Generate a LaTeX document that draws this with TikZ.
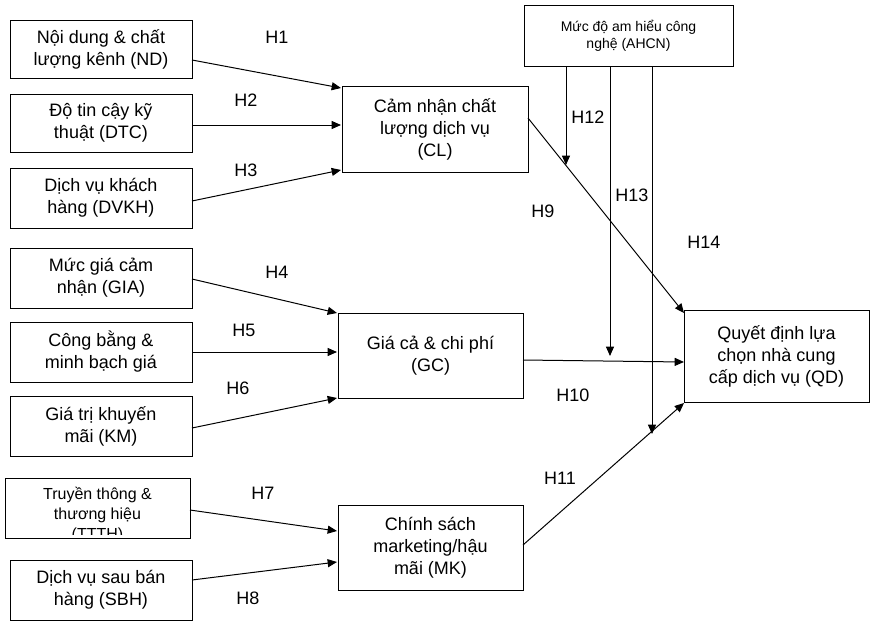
\documentclass[tikz,border=0pt]{standalone}
\usepackage{fontspec}
\setmainfont{Liberation Sans}
\usetikzlibrary{arrows.meta}
\tikzset{every picture/.style={line width=0.75pt}}
\tikzset{
  varbox/.style={draw,align=center,inner sep=0.75pt,font=\fontsize{13.5}{16.5}\selectfont},
  hlab/.style={inner sep=0.75pt,font=\fontsize{13.5}{16}\selectfont},
  link/.style={-{Triangle[length=7pt,width=6pt]}}
}
\begin{document}
\begin{tikzpicture}[x=0.75pt,y=0.75pt,yscale=-1,xscale=1]
\useasboundingbox (0,0) rectangle (876,629);

% Left boxes
\node[varbox,minimum width=136.5pt,minimum height=43.5pt] (ND) at (101,49) {Nội dung \& chất\\lượng kênh (ND)};
\node[varbox,minimum width=136.5pt,minimum height=43.5pt] (DTC) at (101,123) {Độ tin cậy kỹ\\thuật (DTC)};
\node[varbox,minimum width=136.5pt,minimum height=45pt] (DVKH) at (101,198) {Dịch vụ khách\\hàng (DVKH)};
\node[varbox,minimum width=136.5pt,minimum height=45pt] (GIA) at (101,278) {Mức giá cảm\\nhận (GIA)};
\node[varbox,minimum width=136.5pt,minimum height=45pt] (CB) at (101,352) {Công bằng \&\\minh bạch giá};
\node[varbox,minimum width=136.5pt,minimum height=45pt] (KM) at (101,426) {Giá trị khuyến\\mãi (KM)};
% clipped box
\draw (5,478) rectangle (190,538);
\begin{scope}
\clip (5,478) rectangle (190,534);
\node[align=center,inner sep=0.75pt,font=\fontsize{12}{15}\selectfont,anchor=north] at (97.5,486) {Truyền thông \&\\thương hiệu\\(TTTH)};
\end{scope}
\coordinate (TT) at (190,510);
\node[varbox,minimum width=136.5pt,minimum height=45pt] (SBH) at (101,590) {Dịch vụ sau bán\\hàng (SBH)};

% Middle boxes
\node[varbox,minimum width=139.5pt,minimum height=64.5pt] (CL) at (435,129) {Cảm nhận chất\\lượng dịch vụ\\(CL)};
\node[varbox,minimum width=138.75pt,minimum height=63.75pt] (GC) at (430.5,355.5) {Giá cả \& chi phí\\(GC)};
\node[varbox,minimum width=138.75pt,minimum height=63.75pt] (MK) at (430.5,547.5) {Chính sách\\marketing/hậu\\mãi (MK)};

% Right
\node[varbox,minimum width=138.75pt,minimum height=69pt] (QD) at (776.5,356) {Quyết định lựa\\chọn nhà cung\\cấp dịch vụ (QD)};
\node[draw,align=center,inner sep=0.75pt,minimum width=156.75pt,minimum height=45.75pt,font=\fontsize{10.5}{13}\selectfont] (AHCN) at (628.5,35.5) {Mức độ am hiểu công\\nghệ (AHCN)};

% Links
\draw[link] (192,60) -- (341,88);
\draw[link] (192,125) -- (341,125);
\draw[link] (192,201) -- (341,170);
\draw[link] (192,279) -- (337,313);
\draw[link] (192,352) -- (337,352);
\draw[link] (192,428) -- (337,398);
\draw[link] (TT) -- (337,531);
\draw[link] (192,580) -- (337,562);
\draw[link] (528,118) -- (684,313);
\draw[link] (523,360) -- (684,362);
\draw[link] (523,545) -- (684,403);
\draw[link] (566,66) -- (566,165);
\draw[link] (610,66) -- (610,356);
\draw[link] (652,66) -- (652,434);

% Labels
\node[hlab] (H1) at (277,37) {H1};
\node[hlab] (H2) at (246,100) {H2};
\node[hlab] (H3) at (246,170) {H3};
\node[hlab] (H4) at (277,272) {H4};
\node[hlab] (H5) at (244,330) {H5};
\node[hlab] (H6) at (238,388) {H6};
\node[hlab] (H7) at (263,493) {H7};
\node[hlab] (H8) at (248,598) {H8};
\node[hlab] (H9) at (543,211) {H9};
\node[hlab] (H10) at (573,395) {H10};
\node[hlab] (H11) at (560,478) {H11};
\node[hlab] (H12) at (588,117) {H12};
\node[hlab] (H13) at (632,195) {H13};
\node[hlab] (H14) at (704,242) {H14};
\end{tikzpicture}
\end{document}
